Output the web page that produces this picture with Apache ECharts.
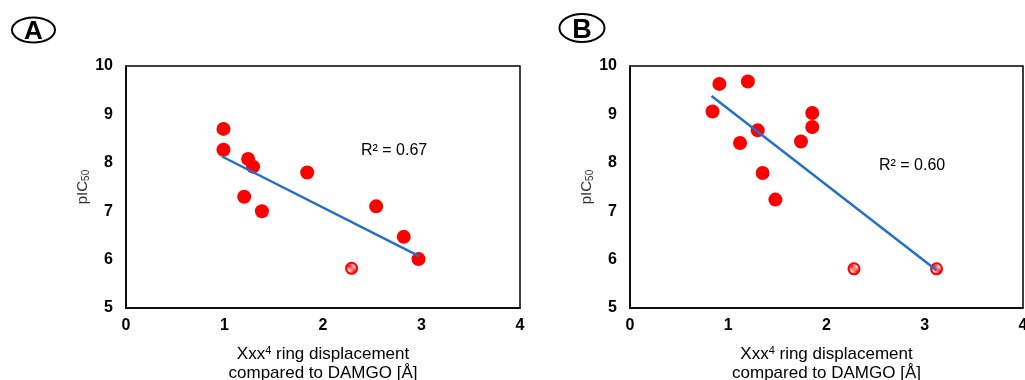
<!DOCTYPE html>
<html><head><meta charset="utf-8">
<script src="https://cdn.jsdelivr.net/npm/echarts@6/dist/echarts.min.js"></script>
<style>html,body{margin:0;padding:0;background:#fff}#c{width:1025px;height:380px}</style>
</head><body><div id="c"></div>
<script>
// Panel A data
const aX = [0.99, 0.99, 1.24, 1.29, 1.84, 1.20, 1.38, 2.54, 2.82, 2.97];
const aY = [8.70, 8.27, 8.08, 7.92, 7.80, 7.30, 7.00, 7.10, 6.47, 6.01];
const aOpenX = [2.29];
const aOpenY = [5.82];
const aTrendX = [0.975, 2.975];
const aTrendY = [8.13, 6.07];
// Panel B data
const bX = [0.91, 1.20, 0.84, 1.855, 1.855, 1.30, 1.12, 1.74, 1.35, 1.48];
const bY = [9.63, 9.68, 9.06, 9.03, 8.74, 8.67, 8.41, 8.44, 7.79, 7.24];
const bOpenX = [2.28, 3.12];
const bOpenY = [5.81, 5.81];
const bTrendX = [0.83, 3.12];
const bTrendY = [9.38, 5.78];
const r2Labels = ['R² = 0.67', 'R² = 0.60'];
const panelLetters = ['A', 'B'];

const zip = (xs, ys) => xs.map((x, i) => [x, ys[i]]);
const FONT = '"Liberation Sans", Arial, sans-serif';

// dotted pattern for open markers
const pc = document.createElement('canvas');
pc.width = 2; pc.height = 2;
const pctx = pc.getContext('2d');
pctx.fillStyle = '#ffffff'; pctx.fillRect(0, 0, 2, 2);
pctx.fillStyle = '#ff0000'; pctx.fillRect(0, 0, 1, 1); pctx.fillRect(1, 1, 1, 1);

function xAxis(gi) {
  return {
    gridIndex: gi, type: 'value', min: 0, max: 4, interval: 1,
    axisLine: { show: true, lineStyle: { color: '#000', width: 1.5 } },
    axisTick: { show: false }, splitLine: { show: false },
    axisLabel: { color: '#000', fontWeight: 'bold', fontSize: 16, fontFamily: FONT, margin: 10 },
    name: '{a|Xxx}{s|4}{a| ring displacement}\n{a|compared to DAMGO [Å]}',
    nameLocation: 'middle', nameGap: 37,
    nameTextStyle: {
      fontFamily: FONT, color: '#000', lineHeight: 19,
      rich: {
        a: { fontSize: 17, fontFamily: FONT, color: '#000', lineHeight: 19 },
        s: { fontSize: 11, fontFamily: FONT, color: '#000', verticalAlign: 'top', padding: [0, 0, 8, 0], lineHeight: 19 }
      }
    }
  };
}
function yAxis(gi) {
  return {
    gridIndex: gi, type: 'value', min: 5, max: 10, interval: 1,
    axisLine: { show: true, lineStyle: { color: '#000', width: 1.5 } },
    axisTick: { show: false }, splitLine: { show: false },
    axisLabel: { color: '#000', fontWeight: 'bold', fontSize: 16, fontFamily: FONT, margin: 13 },
    name: '{a|pIC}{s|50}', nameLocation: 'middle', nameGap: 30, nameRotate: 90,
    nameTextStyle: {
      fontFamily: FONT, color: '#333',
      rich: {
        a: { fontSize: 15, fontFamily: FONT, color: '#333' },
        s: { fontSize: 10, fontFamily: FONT, color: '#333', verticalAlign: 'bottom', padding: [6, 0, 0, 0] }
      }
    }
  };
}
function filled(gi, xs, ys) {
  return { type: 'scatter', xAxisIndex: gi, yAxisIndex: gi, data: zip(xs, ys), symbolSize: 14,
    itemStyle: { color: '#ff0000', opacity: 1 }, z: 2 };
}
function open(gi, xs, ys) {
  return { type: 'scatter', xAxisIndex: gi, yAxisIndex: gi, data: zip(xs, ys), symbolSize: 11,
    itemStyle: { color: { image: pc, repeat: 'repeat' }, borderColor: '#ff0000', borderWidth: 2, opacity: 1 }, z: 2 };
}
function trend(gi, xs, ys) {
  return { type: 'line', xAxisIndex: gi, yAxisIndex: gi, data: zip(xs, ys), showSymbol: false, symbol: 'none',
    lineStyle: { color: '#2470c4', width: 2.5 }, z: 3, silent: true };
}

const chart = echarts.init(document.getElementById('c'), null, { renderer: 'canvas' });
chart.setOption({
  animation: false,
  backgroundColor: '#fff',
  grid: [
    { left: 126, right: 505, top: 66, bottom: 72, show: true, borderColor: '#000', borderWidth: 1.5, backgroundColor: 'transparent', containLabel: false, outerBoundsMode: 'none' },
    { left: 630, right: 2, top: 66, bottom: 72, show: true, borderColor: '#000', borderWidth: 1.5, backgroundColor: 'transparent', containLabel: false, outerBoundsMode: 'none' }
  ],
  xAxis: [xAxis(0), xAxis(1)],
  yAxis: [yAxis(0), yAxis(1)],
  series: [
    filled(0, aX, aY), open(0, aOpenX, aOpenY), trend(0, aTrendX, aTrendY),
    filled(1, bX, bY), open(1, bOpenX, bOpenY), trend(1, bTrendX, bTrendY)
  ],
  graphic: [
    { type: 'text', left: 361, top: 143, style: { text: r2Labels[0], font: '16px ' + FONT, fill: '#000' } },
    { type: 'text', left: 879, top: 158, style: { text: r2Labels[1], font: '16px ' + FONT, fill: '#000' } },
    { type: 'ellipse', shape: { cx: 33.5, cy: 30, rx: 21.5, ry: 12.5 }, style: { fill: 'none', stroke: '#000', lineWidth: 2 } },
    { type: 'text', x: 33.5, y: 32, style: { text: panelLetters[0], font: 'bold 26px ' + FONT, fill: '#000', align: 'center', verticalAlign: 'middle' } },
    { type: 'ellipse', shape: { cx: 582, cy: 28, rx: 22.5, ry: 14 }, style: { fill: 'none', stroke: '#000', lineWidth: 2 } },
    { type: 'text', x: 582, y: 31, style: { text: panelLetters[1], font: 'bold 27px ' + FONT, fill: '#000', align: 'center', verticalAlign: 'middle' } }
  ]
});
</script></body></html>
